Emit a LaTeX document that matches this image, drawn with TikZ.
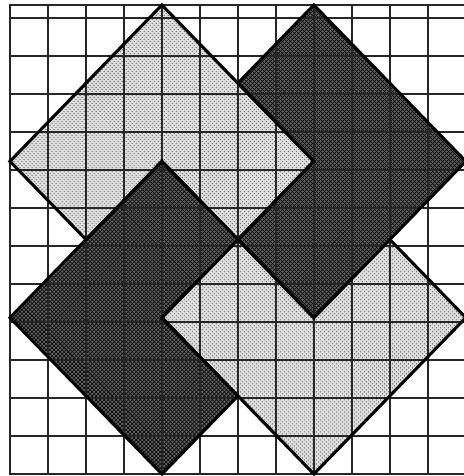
\documentclass[tikz,border=0pt]{standalone}
\usepackage{tikz}
\usetikzlibrary{patterns}

\begin{document}
\begin{tikzpicture}[x=1cm, y=1.029cm,
    lightsq/.style={fill=black!12},
    lightdots/.style={pattern=crosshatch dots, pattern color=black!60},
    darksq/.style={fill=black!62},
    darkhatch/.style={pattern=crosshatch, pattern color=black},
    gridline/.style={line width=1.9pt, black!85},
    edgeline/.style={line width=2.3pt, line join=miter}]
\useasboundingbox (-0.263,-0.05) rectangle (11.947,12.128);
\clip (-0.263,-0.05) rectangle (11.947,12.128);
% light squares (each cut where the dark one lies on top)
\fill[lightsq] (4,12) -- (8,8) -- (6,6) -- (4,8) -- (2,6) -- (0,8) -- cycle;
\fill[lightdots] (4,12) -- (8,8) -- (6,6) -- (4,8) -- (2,6) -- (0,8) -- cycle;
\fill[lightsq] (10,6) -- (12,4) -- (8,0) -- (4,4) -- (6,6) -- (8,4) -- cycle;
\fill[lightdots] (10,6) -- (12,4) -- (8,0) -- (4,4) -- (6,6) -- (8,4) -- cycle;
% dark squares
\fill[darksq] (8,12) -- (12,8) -- (8,4) -- (6,6) -- (8,8) -- (6,10) -- cycle;
\fill[darkhatch] (8,12) -- (12,8) -- (8,4) -- (6,6) -- (8,8) -- (6,10) -- cycle;
\fill[darksq] (4,8) -- (6,6) -- (4,4) -- (6,2) -- (4,0) -- (0,4) -- cycle;
\fill[darkhatch] (4,8) -- (6,6) -- (4,4) -- (6,2) -- (4,0) -- (0,4) -- cycle;
% grid on top of the fills
\draw[gridline] (0,0) grid (12,12);
\draw[gridline] (0,0) rectangle (12,12);
% outlines
\draw[edgeline] (4,12) -- (8,8) -- (6,6) -- (4,8) -- (2,6) -- (0,8) -- cycle;
\draw[edgeline] (10,6) -- (12,4) -- (8,0) -- (4,4) -- (6,6) -- (8,4) -- cycle;
\draw[edgeline] (8,12) -- (12,8) -- (8,4) -- (6,6) -- (8,8) -- (6,10) -- cycle;
\draw[edgeline] (4,8) -- (6,6) -- (4,4) -- (6,2) -- (4,0) -- (0,4) -- cycle;
\end{tikzpicture}
\end{document}
